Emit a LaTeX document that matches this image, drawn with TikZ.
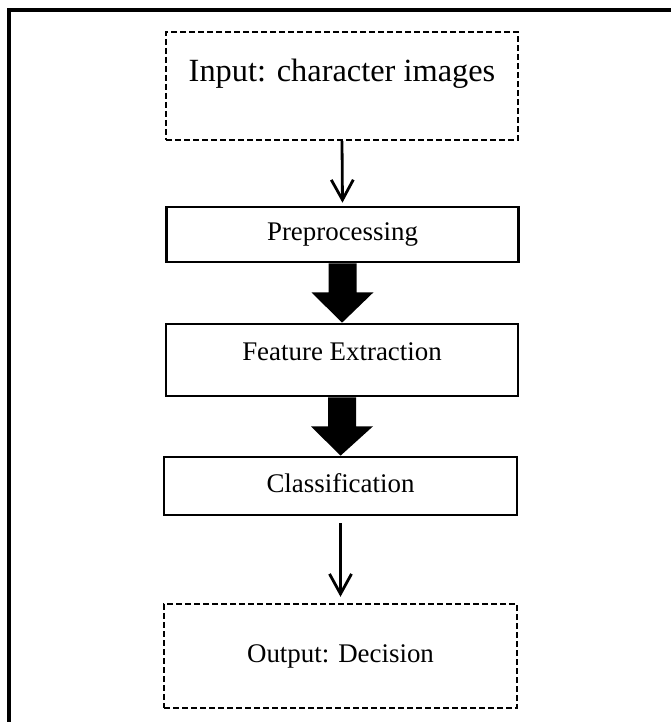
\documentclass[tikz,border=0pt]{standalone}
\usepackage{fontspec}
\setmainfont{Liberation Serif}
\usetikzlibrary{arrows.meta,calc}
\begin{document}
\begin{tikzpicture}[x=1bp,y=-1bp,
  box/.style={draw, line width=2.6bp, minimum width=352bp, inner sep=0pt,
              font=\fontsize{27}{30}\selectfont},
  dbox/.style={box, line width=2.4bp, dash pattern=on 6bp off 3bp},
  flow/.style={line width=2.8bp, -{Straight Barb[length=20bp,width=22bp]}},
  blockarrow/.style={fill=black}]
\useasboundingbox (0,0) rectangle (671,722);
\clip (0,0) rectangle (671,722);
% outer frame (only top and left sides are visible)
\draw[line width=3.2bp] (9,740) -- (9,10) -- (690,10);

\node[dbox, minimum height=108bp, font=\fontsize{32.5}{36}\selectfont,
      text height=22bp, text depth=30bp] (in) at (342,86) {Input: character images};
\node[box, minimum height=55bp, text height=18bp, text depth=6bp] (pre) at (342.5,234.5) {Preprocessing};
\node[box, minimum height=72bp, text height=18bp, text depth=18bp] (fe) at (342,360) {Feature Extraction};
\node[box, minimum width=353bp, minimum height=58bp, text height=18bp, text depth=6bp] (cls) at (340.5,486) {Classification};
\node[dbox, minimum width=353bp, minimum height=104bp, text height=18bp, text depth=6bp] (out) at (340.5,656) {Output: Decision};

\draw[flow, shorten >=3bp] (in.south) -- (pre.north);
\draw[flow, shorten <=7bp, shorten >=6bp] (cls.south) -- (out.north);

\fill[blockarrow] ($(pre.south)+(-14,0)$) -- ($(pre.south)+(14,0)$) -- ($(pre.south)+(14,29)$)
  -- ($(pre.south)+(31,29)$) -- (fe.north) -- ($(pre.south)+(-31,29)$) -- ($(pre.south)+(-14,29)$) -- cycle;
\fill[blockarrow] ($(fe.south)+(-14,0)$) -- ($(fe.south)+(14,0)$) -- ($(fe.south)+(14,29)$)
  -- ($(fe.south)+(31,29)$) -- (cls.north) -- ($(fe.south)+(-31,29)$) -- ($(fe.south)+(-14,29)$) -- cycle;
\end{tikzpicture}
\end{document}
